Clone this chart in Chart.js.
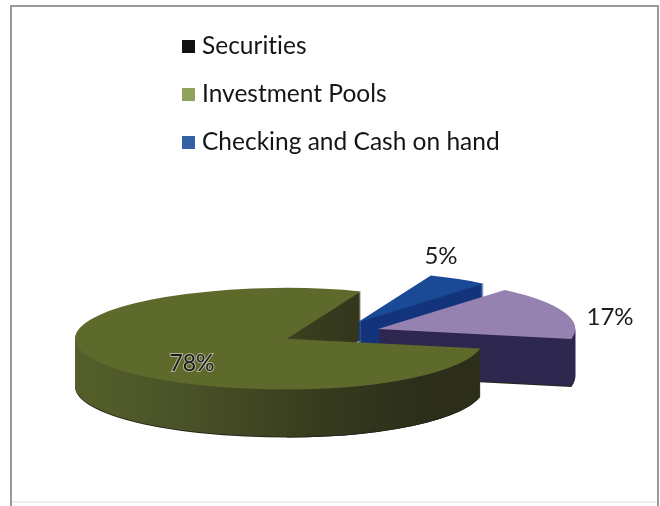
<!DOCTYPE html>
<html>
<head>
<meta charset="utf-8">
<title>Holdings</title>
<script src="https://cdn.jsdelivr.net/npm/chart.js@4/dist/chart.umd.js"></script>
<style>
    html, body { margin: 0; padding: 0; background: #fff; }
    canvas { display: block; }
</style>
</head>
<body>
<canvas id="holdingsChart" width="660" height="506"></canvas>
<script>
const categories = ['Securities', 'Investment Pools', 'Checking and Cash on hand'];
const shares = [17, 78, 5];
const legendColors = ['#111111', '#8fa35a', '#3460a8'];
const sliceColors = ['#9682b0', '#5e6a2c', '#1a4a96'];
const wallColors = ['#2e2850', null, '#14357c'];

const squash = 0.24;
const depth = 47;
const explode = 50;
// Parts of the pie right of a wedge tip are foreshortened by the 3D view
const farScale = 0.93;
const fontFamily = "Lato, 'Open Sans', sans-serif";

// Label placement relative to each slice's wedge tip
const labelShift = [[232, -12], [-95, 25], [84, -66]];

function wedgeTip(arc) {
    const mid = (arc.startAngle + arc.endAngle) / 2;
    return {
        x: Math.round(arc.x + Math.cos(mid) * explode),
        y: arc.y + Math.sin(mid) * explode * squash
    };
}

function paintArc(ctx, arc, tip, drop, scaleX) {
    ctx.translate(tip.x, tip.y + drop);
    ctx.scale(scaleX, squash);
    ctx.translate(-arc.x, -arc.y);
    arc.draw(ctx);
}

function drawLayer(ctx, arc, color, drop) {
    const saved = arc.options;
    const tip = wedgeTip(arc);
    arc.options = Object.assign({}, saved, { backgroundColor: color, borderWidth: 0 });
    // Near half at full width, far half narrowed; the seam is on a whole pixel
    ctx.save();
    ctx.beginPath();
    ctx.rect(0, 0, tip.x, 506);
    ctx.clip();
    paintArc(ctx, arc, tip, drop, 1);
    ctx.restore();
    ctx.save();
    ctx.beginPath();
    ctx.rect(tip.x, 0, 660 - tip.x, 506);
    ctx.clip();
    paintArc(ctx, arc, tip, drop, farScale);
    ctx.restore();
    arc.options = saved;
}

function drawWalls(ctx, arc, wall) {
    drawLayer(ctx, arc, '#24261a', depth + 1);
    for (let d = depth; d > 0; d--) {
        drawLayer(ctx, arc, wall, d);
    }
}

const pie3d = {
    id: 'pie3d',
    beforeDraw(chart) {
        // Outer frame of the chart box
        const ctx = chart.ctx;
        ctx.save();
        ctx.strokeStyle = '#9a9a9a';
        ctx.lineWidth = 2;
        ctx.beginPath();
        ctx.moveTo(11, 506);
        ctx.lineTo(11, 6);
        ctx.lineTo(658, 6);
        ctx.lineTo(658, 506);
        ctx.stroke();
        ctx.strokeStyle = '#eeeeee';
        ctx.beginPath();
        ctx.moveTo(12, 502);
        ctx.lineTo(657, 502);
        ctx.stroke();
        ctx.restore();
    },
    beforeDatasetsDraw(chart) {
        const ctx = chart.ctx;
        const [securities, pools, checking] = chart.getDatasetMeta(0).data;

        const poolWall = ctx.createLinearGradient(75, 0, 480, 0);
        poolWall.addColorStop(0, '#59642c');
        poolWall.addColorStop(0.35, '#4b5428');
        poolWall.addColorStop(0.7, '#383c1e');
        poolWall.addColorStop(1, '#2c2e1a');

        // Back to front: the inner face of the big slice sits behind the others
        drawWalls(ctx, pools, poolWall);
        drawWalls(ctx, checking, wallColors[2]);
        drawLayer(ctx, checking, sliceColors[2], 0);
        drawWalls(ctx, securities, wallColors[0]);
        drawLayer(ctx, securities, sliceColors[0], 0);

        // The front wall of the big slice covers what lies behind it
        const tip = wedgeTip(pools);
        const edgeX = tip.x + Math.cos(pools.startAngle) * 400;
        const edgeY = tip.y + Math.sin(pools.startAngle) * 400 * squash;
        ctx.save();
        ctx.beginPath();
        ctx.moveTo(tip.x, tip.y);
        ctx.lineTo(edgeX, edgeY);
        ctx.lineTo(edgeX, chart.height);
        ctx.lineTo(tip.x, chart.height);
        ctx.closePath();
        ctx.clip();
        drawWalls(ctx, pools, poolWall);
        ctx.restore();
        drawLayer(ctx, pools, sliceColors[1], 0);
        return false;
    },
    afterDraw(chart) {
        const ctx = chart.ctx;
        const arcs = chart.getDatasetMeta(0).data;

        ctx.save();
        ctx.textRendering = 'optimizeSpeed';
        ctx.font = '24.5px ' + fontFamily;
        ctx.textBaseline = 'middle';
        categories.forEach((name, i) => {
            const y = 46 + i * 48;
            ctx.fillStyle = legendColors[i];
            ctx.fillRect(182, y - 6, 13, 13);
            ctx.fillStyle = '#151515';
            ctx.textAlign = 'left';
            ctx.fillText(name, 202, y);
        });

        ctx.textAlign = 'center';
        shares.forEach((value, i) => {
            const tip = wedgeTip(arcs[i]);
            const x = tip.x + labelShift[i][0];
            const y = tip.y + labelShift[i][1];
            if (i === 1) {
                ctx.font = '23px ' + fontFamily;
                ctx.lineWidth = 2;
                ctx.strokeStyle = 'rgba(205,205,190,0.75)';
                ctx.strokeText(value + '%', x, y);
            } else {
                ctx.font = '24px ' + fontFamily;
            }
            ctx.fillStyle = '#1c1c1c';
            ctx.fillText(value + '%', x, y);
        });
        ctx.restore();
    }
};

new Chart(document.getElementById('holdingsChart'), {
    type: 'pie',
    data: {
        labels: categories,
        datasets: [{
            data: shares,
            backgroundColor: sliceColors,
            borderWidth: 0,
            clip: false
        }]
    },
    options: {
        responsive: false,
        animation: false,
        rotation: 40,
        radius: 212,
        layout: { padding: { left: 2, top: 160 } },
        events: [],
        plugins: {
            legend: { display: false },
            tooltip: { enabled: false }
        }
    },
    plugins: [pie3d]
});
</script>
</body>
</html>
